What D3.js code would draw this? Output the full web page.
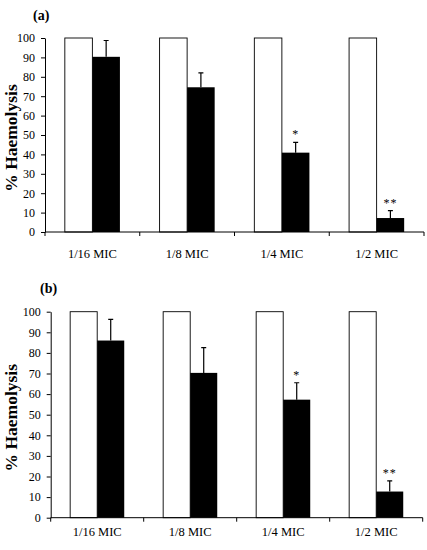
<!DOCTYPE html>
<html lang="en">
<head>
    <meta charset="UTF-8">
    <script src="https://d3js.org/d3.v7.min.js"></script>
    <title>% Haemolysis</title>
    <style>
        body { margin: 0; background: #fff; }
        text { font-family: "Liberation Serif", "Times New Roman", serif; fill: #000; }
    </style>
</head>
<body>
    <script>
        // Data
        const categories = ["1/16 MIC", "1/8 MIC", "1/4 MIC", "1/2 MIC"];
        const series = ["control", "treated"];
        const yTicks = [0, 10, 20, 30, 40, 50, 60, 70, 80, 90, 100];

        const controlA = [100, 100, 100, 100];
        const treatedA = [90.3, 74.6, 40.9, 7.2];
        const errorA = [8.4, 7.4, 5.3, 3.8];

        const controlB = [100, 100, 100, 100];
        const treatedB = [86.0, 70.3, 57.3, 12.7];
        const errorB = [10.3, 12.3, 8.2, 5.2];

        const stars = ["", "", "*", "**"];

        const svg = d3.select("body").append("svg")
            .attr("width", 427)
            .attr("height", 550);

        // Draw one panel
        function panel(cfg, control, treated, errors) {
            const g = svg.append("g");

            const x = d3.scaleBand()
                .domain(categories)
                .range([cfg.left, cfg.right]);
            const xs = d3.scaleBand()
                .domain(series)
                .range([0, x.bandwidth()])
                .paddingOuter(0.72);
            const y = d3.scaleLinear()
                .domain([0, 100])
                .range([cfg.bottom, cfg.top]);

            const rows = categories.map((c, i) => ({
                cat: c, control: control[i], treated: treated[i], err: errors[i], star: stars[i]
            }));

            // control bars (white)
            g.selectAll(".ctrl").data(rows).enter().append("rect")
                .attr("x", d => x(d.cat) + xs("control"))
                .attr("y", d => y(d.control))
                .attr("width", xs.bandwidth())
                .attr("height", d => y(0) - y(d.control))
                .attr("fill", "#fff")
                .attr("stroke", "#000")
                .attr("stroke-width", 0.9);

            // treated bars (black)
            g.selectAll(".trt").data(rows).enter().append("rect")
                .attr("x", d => x(d.cat) + xs("treated"))
                .attr("y", d => y(d.treated))
                .attr("width", xs.bandwidth())
                .attr("height", d => y(0) - y(d.treated))
                .attr("fill", "#000");

            // error bars (upper only)
            const cx = d => x(d.cat) + xs("treated") + xs.bandwidth() / 2;
            g.selectAll(".err").data(rows).enter().append("path")
                .attr("d", d => {
                    const t = y(d.treated + d.err);
                    return `M${cx(d)},${y(d.treated)}V${t}M${cx(d) - 2.5},${t}H${cx(d) + 2.5}`;
                })
                .attr("stroke", "#000")
                .attr("stroke-width", 1.2)
                .attr("fill", "none");

            // significance stars
            g.selectAll(".star").data(rows).enter().append("text")
                .attr("x", d => cx(d))
                .attr("y", d => y(d.treated + d.err) - 4)
                .attr("text-anchor", "middle")
                .style("font-size", "12px")
                .attr("letter-spacing", "1px")
                .text(d => d.star);

            // y axis
            const yAxis = g.append("g")
                .attr("transform", `translate(${cfg.left},0)`)
                .call(d3.axisLeft(y).tickValues(yTicks).tickSize(4).tickPadding(6).tickSizeOuter(0));
            yAxis.select(".domain").attr("stroke-width", 1);
            yAxis.selectAll("text")
                .style("font-family", '"Liberation Serif", "Times New Roman", serif')
                .style("font-size", "12px");

            // x axis: line with ticks at category boundaries
            const bounds = categories.map(c => x(c)).concat([cfg.right]);
            g.append("line")
                .attr("x1", cfg.left).attr("x2", cfg.right)
                .attr("y1", cfg.bottom).attr("y2", cfg.bottom)
                .attr("stroke", "#000");
            g.selectAll(".xt").data(bounds).enter().append("line")
                .attr("x1", d => d).attr("x2", d => d)
                .attr("y1", cfg.bottom).attr("y2", cfg.bottom + 4)
                .attr("stroke", "#000");
            g.selectAll(".xl").data(categories).enter().append("text")
                .attr("x", d => x(d) + x.bandwidth() / 2)
                .attr("y", cfg.bottom + cfg.labelGap)
                .attr("text-anchor", "middle")
                .style("font-size", "12.5px")
                .text(d => d);

            // axis title
            g.append("text")
                .attr("transform", `translate(17,${(cfg.top + cfg.bottom) / 2 + 3}) rotate(-90)`)
                .attr("text-anchor", "middle")
                .style("font-size", "17.5px")
                .style("font-weight", "bold")
                .text("% Haemolysis");

            // panel tag
            g.append("text")
                .attr("x", cfg.tagX)
                .attr("y", cfg.tagY)
                .style("font-size", "14px")
                .style("font-weight", "bold")
                .text(cfg.tag);
        }

        panel({ tag: "(a)", tagX: 33, tagY: 20, left: 45, right: 424, top: 38, bottom: 232, labelGap: 26 },
            controlA, treatedA, errorA);
        panel({ tag: "(b)", tagX: 40, tagY: 293, left: 50.7, right: 422.7, top: 311.7, bottom: 517.7, labelGap: 18 },
            controlB, treatedB, errorB);
    </script>
</body>
</html>
